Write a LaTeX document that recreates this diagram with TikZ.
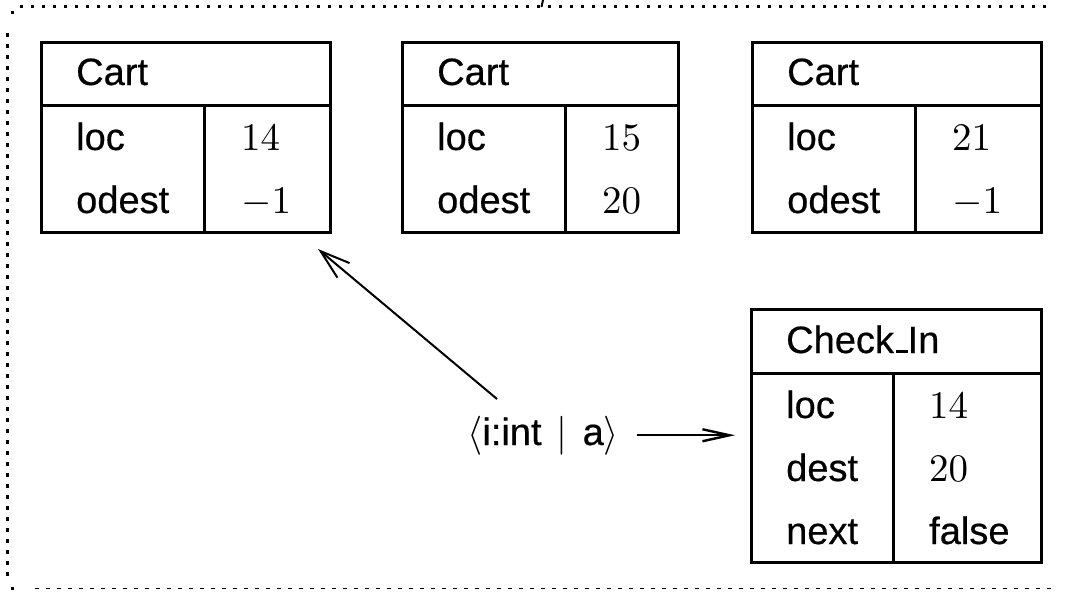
\documentclass[tikz,border=0pt]{standalone}
\usepackage[no-math]{fontspec}
\newfontfamily\helv[Scale=0.975,FakeBold=0.5]{Liberation Sans}
\usetikzlibrary{arrows.meta}
% scale the 10pt Computer Modern designs freely for the large math
\DeclareFontShape{OT1}{cmr}{m}{n}{<->cmr10}{}
\DeclareFontShape{OMS}{cmsy}{m}{n}{<->cmsy10}{}
\DeclareFontShape{OML}{cmm}{m}{it}{<->cmmi10}{}

\tikzset{
  rec/.style={draw, line width=3pt, inner sep=0pt, outer sep=0pt, anchor=north west},
  rule/.style={line width=3pt},
  txt/.style={anchor=base west, inner sep=0pt, font=\helv\fontsize{39}{47}\selectfont},
  frame/.style={line width=3pt, line cap=butt},
  diagarrow/.style={line width=2pt, -{Straight Barb[length=30pt,width=19pt,line width=2pt]}},
  flatarrow/.style={line width=2.4pt, -{Straight Barb[length=27pt,width=12pt,line width=2.4pt]}}
}

% a record box: name, top-left corner, width, height, header height, first column width
\newcommand\recordbox[6]{%
  \node[rec, minimum width=#3pt, minimum height=#4pt] (#1) at #2 {};
  \draw[rule] ([yshift=-#5pt]#1.north west) -- ([yshift=-#5pt]#1.north east);
  \draw[rule] ([xshift=#6pt,yshift=-#5pt]#1.north west) -- ([xshift=#6pt]#1.south west);
}

\begin{document}
\begin{tikzpicture}[x=1pt,y=-1pt]
\useasboundingbox (0,0) rectangle (1066,597);

% dotted frame
\draw[frame, dash pattern=on 3pt off 8pt] (20,6) -- (1050,6);
\fill (10.5,10.5) rectangle (13.5,13.5);
\draw[line width=2pt] (543,0) -- (541.5,7);
\draw[frame, dash pattern=on 3.5pt off 7.5pt] (7,33) -- (7,578);
\fill (10.5,586.5) rectangle (13.5,589.5);
\draw[line width=1.3pt, dash pattern=on 4pt off 7pt] (35,588.5) -- (1052,588.5);

% the three carts
\recordbox{cartA}{(41,42)}{289}{190}{63}{163}
\recordbox{cartB}{(402,42)}{276}{190}{63}{163}
\recordbox{cartC}{(752,42)}{289}{190}{63}{163}

\node[txt] (hA)  at (76,85)   {Cart};
\node[txt] (lA)  at (76,150)  {loc};
\node[txt] (oA)  at (76,213)  {odest};
\node[txt] (vlA) at (241,150) {$14$};
\node[txt] (voA) at (241,213) {$-1$};

\node[txt] (hB)  at (437,85)  {Cart};
\node[txt] (lB)  at (437,150) {loc};
\node[txt] (oB)  at (437,213) {odest};
\node[txt] (vlB) at (602,150) {$15$};
\node[txt] (voB) at (602,213) {$20$};

\node[txt] (hC)  at (787,85)  {Cart};
\node[txt] (lC)  at (787,150) {loc};
\node[txt] (oC)  at (787,213) {odest};
\node[txt] (vlC) at (952,150) {$21$};
\node[txt] (voC) at (952,213) {$-1$};

% the check-in record
\recordbox{check}{(751,309)}{290}{253}{64}{142}
\node[txt] (hK)  at (786,353) {Check\kern.06em\vbox{\hrule height 2.6pt width .3em}In};
\node[txt] (lK)  at (786,418) {loc};
\node[txt] (dK)  at (786,481) {dest};
\node[txt] (nK)  at (786,544) {next};
\node[txt] (vlK) at (929,418) {$14$};
\node[txt] (vdK) at (929,481) {$20$};
\node[txt] (vnK) at (929,544) {false};

% message and its arrows
\node[txt] (msg) at (467,445) {$\langle\mbox{i:int}\mkern2mu\mid\mkern2mu\mbox{a}\rangle$};
\coordinate (msgTail) at (497,399);
\coordinate (cartTip) at (318,249);
\draw[diagarrow] (msgTail) -- (cartTip);
\draw[flatarrow, shorten <=18pt, shorten >=16pt] (msg.east) -- (msg.east -| check.west);
\end{tikzpicture}
\end{document}
